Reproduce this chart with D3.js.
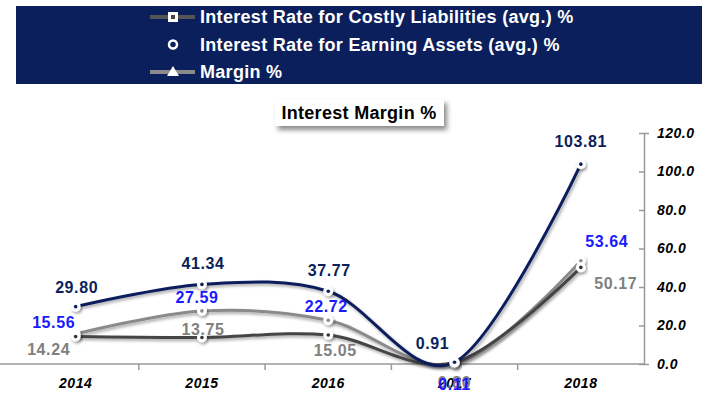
<!DOCTYPE html>
<html lang="en">
  <head>
    <meta charset="UTF-8">
    <title>Interest Margin %</title>
    <style>
      body { margin: 0; background: #fff; }
      svg { font-family: "Liberation Sans", Arial, sans-serif; }
      .axis-x path, .axis-y path { stroke: #999; stroke-width: 1.5; }
      .axis-x .tick line, .axis-y .tick line { stroke: #999; stroke-width: 1.5; }
      .axis text { fill: #000; font-size: 14px; font-weight: bold; font-style: italic; letter-spacing: 0.5px; }
      .legend text { fill: #fff; font-size: 18px; font-weight: bold; letter-spacing: 0.3px; }
      .lbl { font-size: 16px; font-weight: bold; text-anchor: middle; letter-spacing: 0.6px; }
    </style>
    <script src="https://d3js.org/d3.v7.min.js"></script>
  </head>
  <body>
    <script>
      // values
      const years = ["2014", "2015", "2016", "2017", "2018"];
      const costly = [14.24, 13.75, 15.05, 0.80, 50.17];
      const earning = [29.80, 41.34, 37.77, 0.91, 103.81];
      const margin = [15.56, 27.59, 22.72, 0.11, 53.64];
      const yTicks = [0, 20, 40, 60, 80, 100, 120];
      const seriesNames = [
        "Interest Rate for Costly Liabilities (avg.) %",
        "Interest Rate for Earning Assets (avg.) %",
        "Margin %"
      ];

      const width = 717, height = 400;

      const svg = d3.select("body").append("svg")
        .attr("width", width)
        .attr("height", height);

      const defs = svg.append("defs");
      const f = defs.append("filter").attr("id", "shadow")
        .attr("x", "-20%").attr("y", "-20%").attr("width", "140%").attr("height", "160%");
      f.append("feDropShadow").attr("dx", 1.5).attr("dy", 2).attr("stdDeviation", 1.5)
        .attr("flood-color", "#000").attr("flood-opacity", 0.35);
      const f2 = defs.append("filter").attr("id", "boxshadow")
        .attr("x", "-10%").attr("y", "-30%").attr("width", "130%").attr("height", "180%");
      f2.append("feDropShadow").attr("dx", 3).attr("dy", 4).attr("stdDeviation", 2.5)
        .attr("flood-color", "#000").attr("flood-opacity", 0.45);

      // legend box
      const legend = svg.append("g").attr("class", "legend");
      legend.append("rect")
        .attr("x", 16).attr("y", 6).attr("width", 686).attr("height", 78)
        .attr("fill", "#0b1f5c");

      const legendStyles = [
        { line: "#555", marker: "square" },
        { line: null, marker: "circle" },
        { line: "#8a8a8a", marker: "triangle" }
      ];
      const legendRow = d3.scalePoint().domain(seriesNames).range([17, 72]);

      seriesNames.forEach((name, i) => {
        const g = legend.append("g").attr("transform", `translate(0,${legendRow(name)})`);
        const st = legendStyles[i];
        if (st.line) {
          g.append("line").attr("x1", 150).attr("x2", 195).attr("y1", 0).attr("y2", 0)
            .attr("stroke", st.line).attr("stroke-width", 4);
        }
        if (st.marker === "square") {
          g.append("rect").attr("x", 168).attr("y", -5).attr("width", 10).attr("height", 10)
            .attr("fill", "#fff");
          g.append("rect").attr("x", 171).attr("y", -2).attr("width", 4).attr("height", 4)
            .attr("fill", "#444");
        } else if (st.marker === "circle") {
          g.append("circle").attr("cx", 173).attr("cy", 0).attr("r", 4)
            .attr("fill", "none").attr("stroke", "#fff").attr("stroke-width", 2.5);
        } else {
          g.append("path").attr("d", "M173,-6L179,4L167,4Z").attr("fill", "#fff");
        }
        g.append("text").attr("x", 200).attr("y", 0).attr("dy", "0.36em").text(name);
      });

      // title box
      const title = svg.append("g");
      title.append("rect").attr("x", 275).attr("y", 99).attr("width", 169).attr("height", 27)
        .attr("fill", "#fff").attr("filter", "url(#boxshadow)");
      title.append("text").attr("x", 359).attr("y", 113).attr("dy", "0.36em")
        .attr("text-anchor", "middle").attr("font-size", 18).attr("font-weight", "bold")
        .attr("letter-spacing", "0.3px")
        .text("Interest Margin %");

      // scales
      const x = d3.scaleBand().domain(years).range([12.5, 644]);
      const y = d3.scaleLinear().domain([0, 120]).range([364, 133]);

      svg.append("line").attr("x1", 0).attr("x2", 644)
        .attr("y1", y(0)).attr("y2", y(0))
        .attr("stroke", "#999").attr("stroke-width", 1.5);

      const xAxis = svg.append("g")
        .attr("class", "axis axis-x")
        .attr("transform", `translate(0,${y(0)})`)
        .call(d3.axisBottom(x).tickSize(0).tickPadding(14));
      xAxis.select(".domain").remove();
      // tick marks sit between the categories
      xAxis.selectAll(".sep")
        .data(years.slice(1))
        .enter().append("line")
        .attr("x1", d => x(d)).attr("x2", d => x(d))
        .attr("y1", 0).attr("y2", 6)
        .attr("stroke", "#999").attr("stroke-width", 1.5);

      const yAxis = svg.append("g")
        .attr("class", "axis axis-y")
        .attr("transform", `translate(644,0)`)
        .call(d3.axisRight(y).tickValues(yTicks).tickFormat(d3.format(".1f"))
          .tickSize(5).tickSizeOuter(5).tickPadding(8));
      yAxis.selectAll(".tick line").attr("x1", -5).attr("x2", 0);

      const curve = d3.curveCardinal.tension(0);
      const line = d3.line()
        .x((d, i) => x(years[i]) + x.bandwidth() / 2)
        .y(d => y(d))
        .curve(curve);

      const series = [
        { values: margin, color: "#8a8a8a", dot: "#8a8a8a" },
        { values: costly, color: "#444", dot: "#333" },
        { values: earning, color: "#0b1f5c", dot: "#0b1f5c" }
      ];

      series.forEach(s => {
        svg.append("path")
          .datum(s.values)
          .attr("d", line)
          .attr("fill", "none")
          .attr("stroke", s.color)
          .attr("stroke-width", 3)
          .attr("filter", "url(#shadow)");
      });

      series.forEach(s => {
        const g = svg.append("g");
        g.selectAll("circle.m")
          .data(s.values)
          .enter().append("circle")
          .attr("class", "m")
          .attr("cx", (d, i) => x(years[i]) + x.bandwidth() / 2)
          .attr("cy", d => y(d))
          .attr("r", 5)
          .attr("fill", "#fff")
          .attr("filter", "url(#shadow)");
        g.selectAll("circle.d")
          .data(s.values)
          .enter().append("circle")
          .attr("class", "d")
          .attr("cx", (d, i) => x(years[i]) + x.bandwidth() / 2)
          .attr("cy", d => y(d))
          .attr("r", 1.8)
          .attr("fill", s.dot);
      });

      // data labels: offsets from each point
      const labelSets = [
        { values: costly, color: "#808080", off: [[-27, 13], [1, -8], [7, 15], [0, 20], [35, 16]] },
        { values: earning, color: "#0b1f5c", off: [[1, -19], [1, -21], [1, -21], [-22, -19], [0, -23]] },
        { values: margin, color: "#1a1aff", off: [[-22, -12], [-5, -14], [-2, -14], [0, 20], [26, -20]] }
      ];
      labelSets.forEach(ls => {
        svg.selectAll(null)
          .data(ls.values)
          .enter().append("text")
          .attr("class", "lbl")
          .attr("fill", ls.color)
          .attr("x", (d, i) => x(years[i]) + x.bandwidth() / 2 + ls.off[i][0])
          .attr("y", (d, i) => y(d) + ls.off[i][1])
          .attr("dy", "0.36em")
          .text(d => d3.format(".2f")(d));
      });
    </script>
  </body>
</html>
